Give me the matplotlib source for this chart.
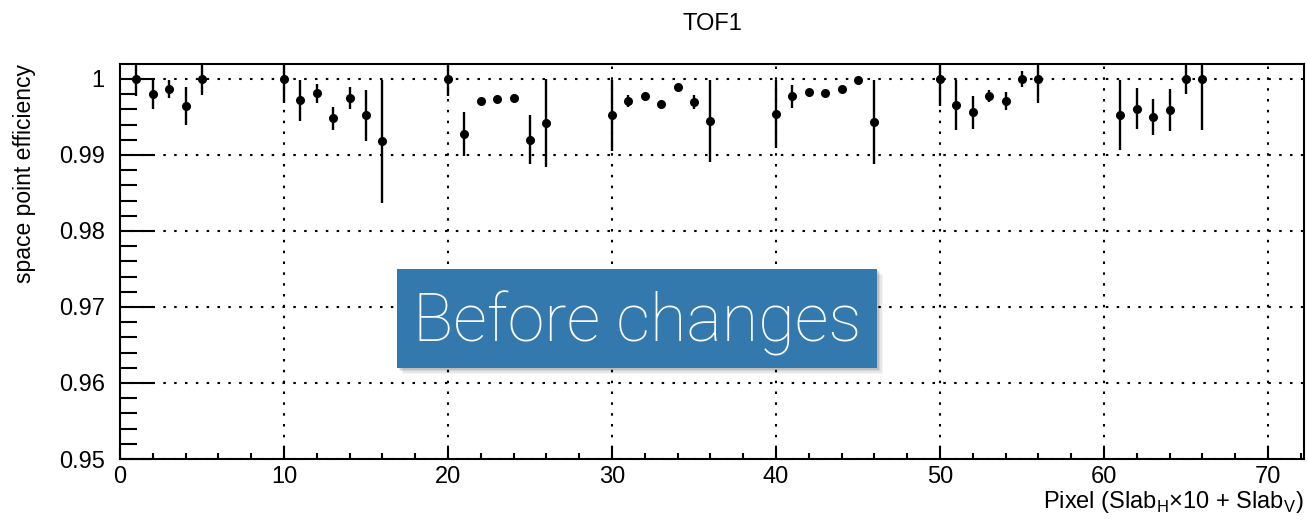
import numpy as np
import matplotlib
matplotlib.use('Agg')
from matplotlib import pyplot as plt
from matplotlib.patches import Rectangle
from matplotlib.ticker import MultipleLocator

# space point efficiency per pixel (Slab_H*10 + Slab_V)
pixel = [1, 2, 3, 4, 5,
         10, 11, 12, 13, 14, 15, 16,
         20, 21, 22, 23, 24, 25, 26,
         30, 31, 32, 33, 34, 35, 36,
         40, 41, 42, 43, 44, 45, 46,
         50, 51, 52, 53, 54, 55, 56,
         61, 62, 63, 64, 65, 66]
eff = [1.0, 0.9980, 0.9987, 0.9964, 1.0,
       1.0, 0.9972, 0.9981, 0.9948, 0.9975, 0.9952, 0.9918,
       1.0, 0.9928, 0.9971, 0.9973, 0.9975, 0.9920, 0.9942,
       0.9952, 0.9971, 0.9977, 0.9967, 0.9989, 0.9970, 0.9945,
       0.9954, 0.9977, 0.9983, 0.9981, 0.9987, 0.9999, 0.9943,
       1.0, 0.9966, 0.9956, 0.9978, 0.9971, 1.0, 1.0,
       0.9953, 0.9961, 0.9950, 0.9959, 1.0, 1.0]
err = [0.0023, 0.0020, 0.0012, 0.0025, 0.0021,
       0.0032, 0.0027, 0.0012, 0.0015, 0.0014, 0.0034, 0.0081,
       0.0023, 0.0029, 0.0004, 0.0003, 0.0005, 0.0032, 0.0058,
       0.0047, 0.0008, 0.0003, 0.0003, 0.0003, 0.0009, 0.0054,
       0.0045, 0.0015, 0.0003, 0.0003, 0.0003, 0.0003, 0.0055,
       0.0036, 0.0033, 0.0022, 0.0008, 0.0012, 0.0010, 0.0031,
       0.0046, 0.0027, 0.0024, 0.0028, 0.0020, 0.0067]

plt.rcParams['font.family'] = ['Liberation Sans', 'DejaVu Sans']

fig = plt.figure(figsize=(13.08, 5.21), dpi=100)
ax = fig.add_axes([120/1308, 1-459/521, 1184/1308, 395/521])

ax.errorbar(pixel, eff, yerr=err, fmt='o', color='k', ms=5.5,
            elinewidth=1.7, capsize=0, zorder=3)

ax.set_xlim(0, 72.2)
ax.set_ylim(0.95, 1.00197)

ax.xaxis.set_major_locator(MultipleLocator(10))
ax.xaxis.set_minor_locator(MultipleLocator(2))
ax.yaxis.set_minor_locator(MultipleLocator(0.002))
ax.set_yticks([0.95, 0.96, 0.97, 0.98, 0.99, 1.0])
ax.set_yticklabels(['0.95', '0.96', '0.97', '0.98', '0.99', '1'])

ax.tick_params(axis='both', which='both', direction='in', top=False, right=False,
               labelsize=17, width=1.5, color='k')
ax.tick_params(axis='y', which='major', length=24, pad=11)
ax.tick_params(axis='y', which='minor', length=12)
ax.tick_params(axis='x', which='major', length=9, pad=5)
ax.tick_params(axis='x', which='minor', length=4.5)

ax.grid(True, which='major', color='k', linestyle=(0, (1.2, 4)), linewidth=1.5)
for s in ax.spines.values():
    s.set_linewidth(1.5)

fig.text(ax.get_position().x0 + ax.get_position().width/2, 1-30/521, 'TOF1',
         ha='center', va='baseline', fontsize=17)
ax.set_ylabel('space point efficiency', fontsize=16.5, loc='top', labelpad=16)
fig.text(1304/1308, 1-508/521,
         r'Pixel (Slab$_{\mathregular{H}}$×10 + Slab$_{\mathregular{V}}$)',
         ha='right', va='baseline', fontsize=17)

# label box with a soft drop shadow
bx, by, bw, bh = 397/1308, 1-368/521, 480/1308, 99/521
for i, a in enumerate([0.10, 0.08, 0.06, 0.04]):
    d = (i + 1) * 1.5
    fig.patches.append(Rectangle((bx + d/1308, by - d/521), bw, bh,
                                 transform=fig.transFigure, facecolor='k',
                                 alpha=a, edgecolor='none', zorder=9))
fig.patches.append(Rectangle((bx, by), bw, bh, transform=fig.transFigure,
                             facecolor='#3479ad', edgecolor='none', zorder=10))
fig.text(bx + bw/2, 1-342/521, 'Before changes', ha='center', va='baseline',
         fontsize=48, color='white', family=['Roboto', 'Lato', 'DejaVu Sans'],
         fontweight='light', zorder=11)

fig.savefig('out.png', dpi=100)
